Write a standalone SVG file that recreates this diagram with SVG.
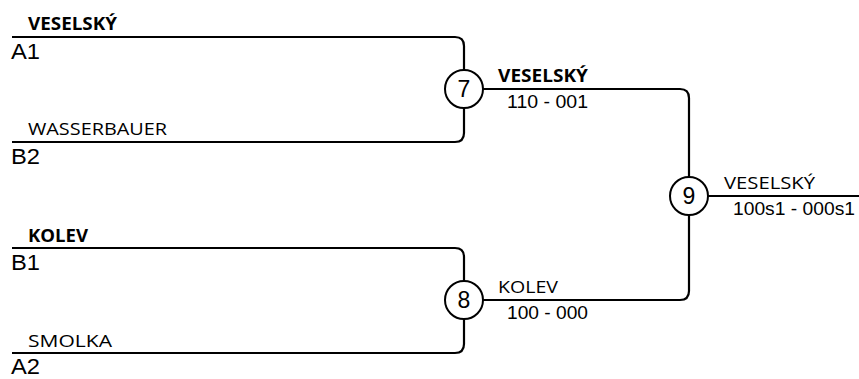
<svg xmlns="http://www.w3.org/2000/svg" width="859" height="379" viewBox="0 0 859 379">
<style>
.ln{fill:none;stroke:#000;stroke-width:2.2}
.nd{fill:#fff;stroke:#000;stroke-width:2}
.num{font-family:"Liberation Sans",Arial,sans-serif;font-size:23px;fill:#000;text-anchor:middle}
.seed{font-family:"Liberation Sans",Arial,sans-serif;font-size:22px;fill:#000}
.nm{font-family:"Open Sans","Noto Sans",sans-serif;font-size:17px;fill:#000}
.b{font-weight:bold}
.sc{font-family:"Liberation Sans",Arial,sans-serif;font-size:18px;fill:#000}
.sc2{font-family:"Liberation Sans",Arial,sans-serif;font-size:19px;fill:#000}
</style>
<rect width="859" height="379" fill="#fff"/>
<g id="connectors">
<path class="ln" d="M12 37 H455 Q464 37 464 46 V70"/>
<path class="ln" d="M12 142 H455 Q464 142 464 133 V108"/>
<path class="ln" d="M12 248 H455 Q464 248 464 257 V281"/>
<path class="ln" d="M12 353 H455 Q464 353 464 344 V319"/>
<path class="ln" d="M483 89 H680 Q689 89 689 98 V177"/>
<path class="ln" d="M483 300 H680 Q689 300 689 291 V215"/>
<path class="ln" d="M708 196 H859"/>
</g>
<g id="entrants">
<text class="nm b" x="28" y="30" textLength="89" lengthAdjust="spacingAndGlyphs">VESELSKÝ</text>
<text class="seed" x="11" y="59" textLength="29" lengthAdjust="spacingAndGlyphs">A1</text>
<text class="nm" x="28" y="135" textLength="139" lengthAdjust="spacingAndGlyphs">WASSERBAUER</text>
<text class="seed" x="11" y="164" textLength="29" lengthAdjust="spacingAndGlyphs">B2</text>
<text class="nm b" x="28" y="242" textLength="60" lengthAdjust="spacingAndGlyphs">KOLEV</text>
<text class="seed" x="11" y="270" textLength="29" lengthAdjust="spacingAndGlyphs">B1</text>
<text class="nm" x="28" y="347" textLength="84" lengthAdjust="spacingAndGlyphs">SMOLKA</text>
<text class="seed" x="11" y="374" textLength="29" lengthAdjust="spacingAndGlyphs">A2</text>
</g>
<g id="match7">
<circle class="nd" cx="464" cy="89" r="19"/>
<text class="num" x="464" y="97">7</text>
<text class="nm b" x="498" y="82" textLength="90" lengthAdjust="spacingAndGlyphs">VESELSKÝ</text>
<text class="sc" x="507" y="108" textLength="81" lengthAdjust="spacingAndGlyphs">110 - 001</text>
</g>
<g id="match8">
<circle class="nd" cx="464" cy="300" r="19"/>
<text class="num" x="464" y="308">8</text>
<text class="nm" x="498" y="293" textLength="60" lengthAdjust="spacingAndGlyphs">KOLEV</text>
<text class="sc" x="507" y="319" textLength="81" lengthAdjust="spacingAndGlyphs">100 - 000</text>
</g>
<g id="match9">
<circle class="nd" cx="689" cy="196" r="19"/>
<text class="num" x="689" y="204">9</text>
<text class="nm" x="724" y="189" textLength="91" lengthAdjust="spacingAndGlyphs">VESELSKÝ</text>
<text class="sc2" x="733" y="215" textLength="122" lengthAdjust="spacingAndGlyphs">100s1 - 000s1</text>
</g>
</svg>
